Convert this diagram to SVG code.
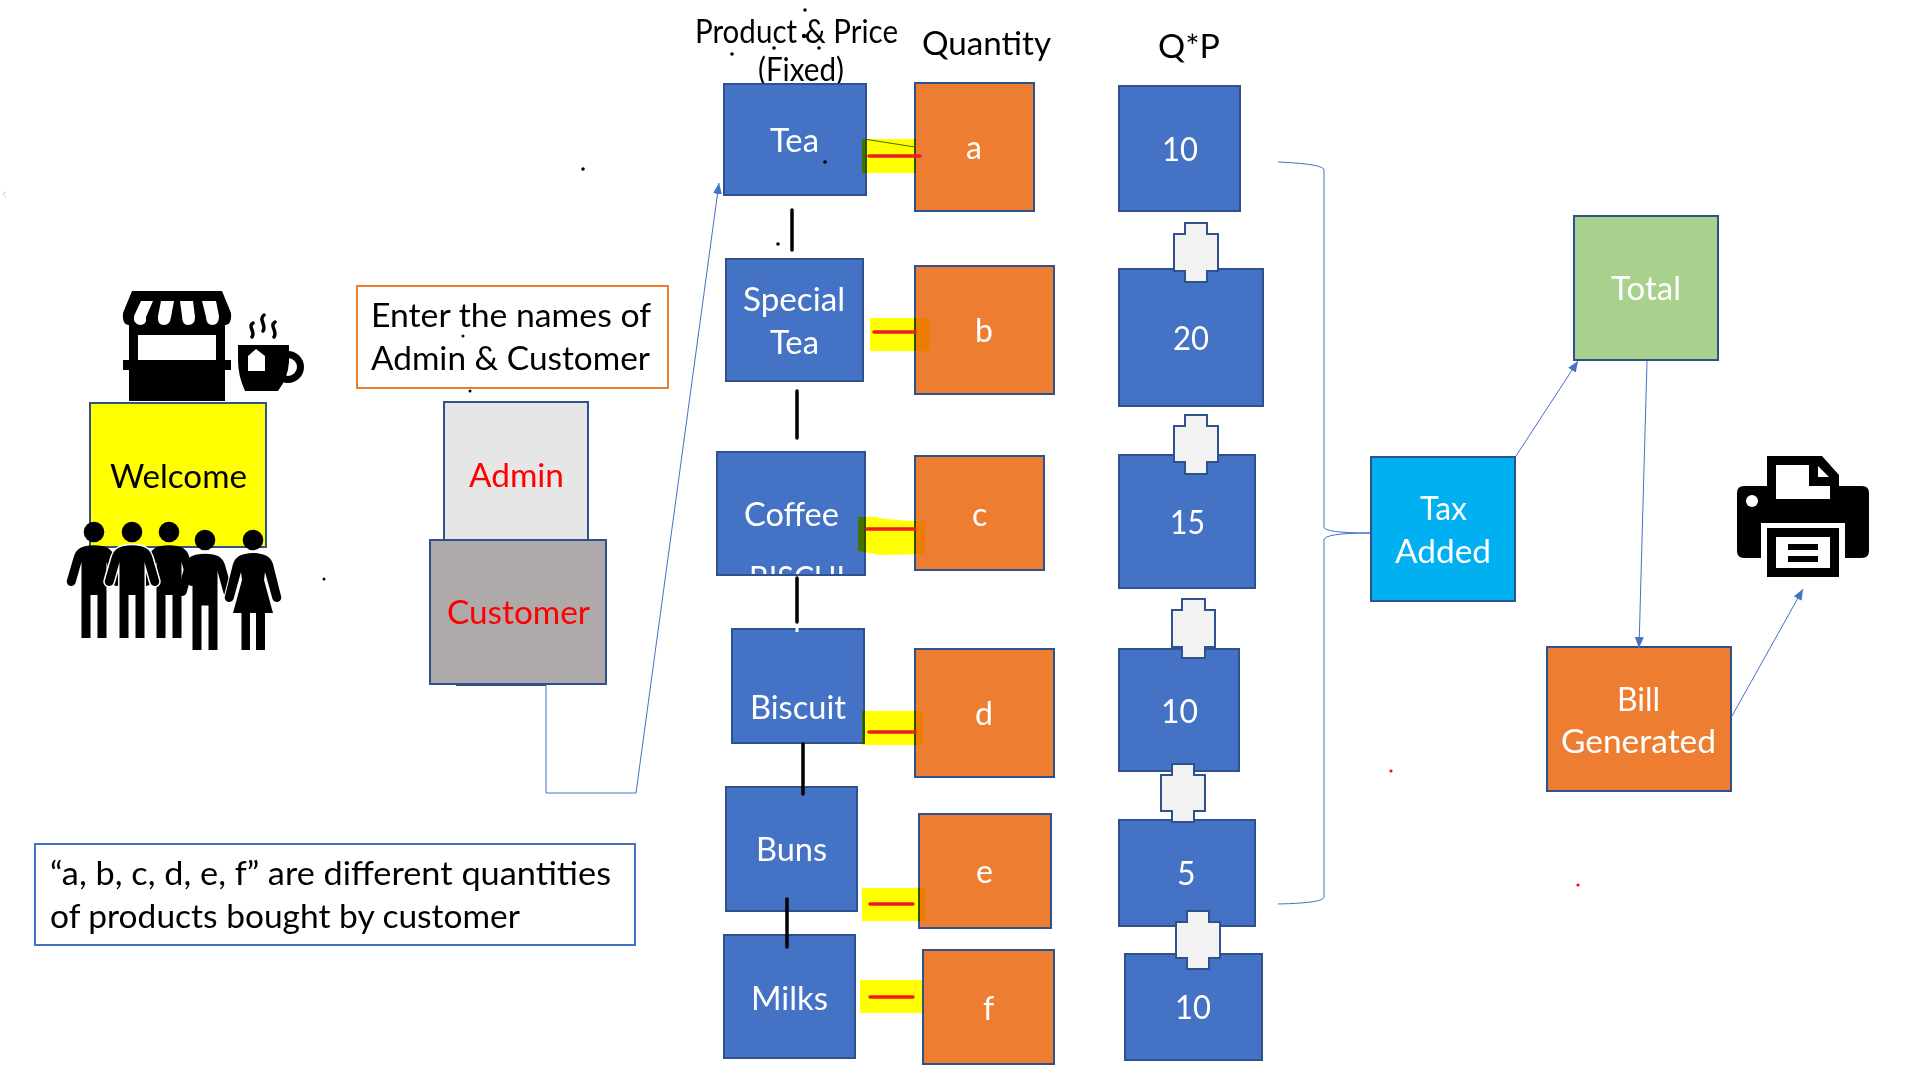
<svg xmlns="http://www.w3.org/2000/svg" width="1920" height="1080" viewBox="0 0 1920 1080">
<defs>
<style>
text{font-family:"Lato","Liberation Sans",sans-serif;font-size:32px}
.w{fill:#fff}.k{fill:#000}.r{fill:#f00}
.bl{fill:#4472C4;stroke:#2F528F;stroke-width:2}
.or{fill:#ED7D31;stroke:#2F528F;stroke-width:2}
.pl{fill:#F2F2F2;stroke:#2F528F;stroke-width:2}
.hl{fill:#FFFF00;mix-blend-mode:multiply}
.rd{stroke:#ED1C24;stroke-width:3.5;stroke-linecap:round;fill:none}
.bk{stroke:#000;stroke-width:3.5;stroke-linecap:round;fill:none}
.cn{stroke:#4472C4;stroke-width:1;fill:none}
.ah{stroke:#4472C4;stroke-width:1;fill:none;marker-end:url(#arrow)}
</style>
<marker id="arrow" markerUnits="userSpaceOnUse" markerWidth="12" markerHeight="10" refX="11" refY="5" orient="auto"><path d="M0,0.5L11,5L0,9.5z" fill="#4472C4"/></marker>
<clipPath id="coffeeClip"><rect x="718" y="453" width="146" height="121"/></clipPath>
<path id="man" d="M-8,14Q0,12.5 8,14C14,15 18,18 20,24L27,48A4.5,4.5 0 0 1 18.5,51L12.5,30V62V106H3.5V63H-3.5V106H-12.5V62V30L-18.5,51A4.5,4.5 0 0 1 -27,48L-20,24C-18,18 -14,15 -8,14Z"/>
</defs>
<rect width="1920" height="1080" fill="#fff"/>

<g id="welcome">
<rect x="90" y="403" width="176" height="144" fill="#FFFF00" stroke="#2F528F" stroke-width="2"/>
<text class="k" x="110" y="488" textLength="137" lengthAdjust="spacingAndGlyphs">Welcome</text>
</g>
<g id="store">
<path d="M132,291H222L231,313Q232,325 225,325V360H231V370H225V401H129V370H123V360H129V325Q122,325 123,313Z"/>
<path fill="#fff" d="M141,301H153L146,317Q147,325 140,325Q133,324 134,316Z M161,301H174L171,317Q170,325 164,325Q157,325 158,316Z M180,301H193L195,317Q195,325 188,325Q182,325 182,316Z M202,301H216L219,316Q219,325 212,325Q206,324 206,317Z"/>
<rect x="138" y="335" width="78" height="25" fill="#fff"/>
</g>
<g id="cup">
<circle cx="288" cy="367" r="12.5" fill="none" stroke="#000" stroke-width="7"/>
<path d="M238,345H289V362Q288,378 278,391H245Q238,376 238,360Z"/>
<path d="M248,356L256,349L265,356V371H248Z" fill="#fff"/>
<path d="M253,323C247,327 256,331 252,337M264,315C258,320 267,325 263,331M275,322C269,326 278,331 274,337" fill="none" stroke="#000" stroke-width="3.5" stroke-linecap="round"/>
</g>
<g id="people">
<g transform="translate(94,532)"><circle cy="0" r="10.3"/><use href="#man"/></g>
<g transform="translate(169,532)"><circle cy="0" r="10.3"/><use href="#man"/></g>
<g transform="translate(132,532)"><circle cy="0" r="10.3"/><use href="#man" stroke="#fff" stroke-width="3" paint-order="stroke"/></g>
<g transform="translate(205,540)"><circle cy="0" r="10.3"/><use href="#man" transform="scale(1,1.038)"/></g>
<g transform="translate(253,540)"><circle cy="0" r="10.3"/><path stroke="#fff" stroke-width="2" paint-order="stroke" d="M-8,14Q0,12 8,14C14,15 18,18 20,24L28,56A4.5,4.5 0 0 1 19.5,59L12,32L11,40L20,73H12V110H3V73H-3V110H-11.5V73H-20L-11,40L-12,32L-19.5,59A4.5,4.5 0 0 1 -28,56L-20,24C-18,18 -14,15 -8,14Z"/></g>
</g>

<g id="instructions">
<rect x="357" y="286" width="311" height="102" fill="#fff" stroke="#ED7D31" stroke-width="2"/>
<text class="k" x="371" y="327" textLength="280" lengthAdjust="spacingAndGlyphs">Enter the names of</text>
<text class="k" x="371" y="370" textLength="279" lengthAdjust="spacingAndGlyphs">Admin &amp; Customer</text>
</g>
<g id="admin">
<rect x="444" y="402" width="144" height="140" fill="#E7E6E6" stroke="#2F528F" stroke-width="2"/>
<text class="r" x="469" y="487" textLength="95" lengthAdjust="spacingAndGlyphs">Admin</text>
</g>
<g id="customer">
<line x1="456" y1="685.5" x2="546" y2="685.5" stroke="#2F528F" stroke-width="1"/>
<rect x="430" y="540" width="176" height="144" fill="#AEAAAA" stroke="#2F528F" stroke-width="2"/>
<text class="r" x="447" y="624" textLength="143" lengthAdjust="spacingAndGlyphs">Customer</text>
</g>
<g id="note">
<rect x="35" y="848" width="600" height="101" fill="#fff" stroke="#4472C4" stroke-width="2" transform="translate(0,-4)"/>
<text class="k" x="50" y="885" textLength="561" lengthAdjust="spacingAndGlyphs">“a, b, c, d, e, f” are different quantities</text>
<text class="k" x="50" y="928" textLength="470" lengthAdjust="spacingAndGlyphs">of products bought by customer</text>
</g>

<g id="headers">
<text class="k" x="695" y="43" textLength="203" lengthAdjust="spacingAndGlyphs">Product &amp; Price</text>
<text class="k" x="758" y="81" textLength="86" lengthAdjust="spacingAndGlyphs">(Fixed)</text>
<text class="k" x="922" y="55" textLength="129" lengthAdjust="spacingAndGlyphs">Quantity</text>
<text class="k" x="1158" y="58" textLength="62" lengthAdjust="spacingAndGlyphs">Q*P</text>
</g>

<g id="tea"><rect class="bl" x="724" y="84" width="142" height="111"/><text class="w" x="770" y="152" textLength="49" lengthAdjust="spacingAndGlyphs">Tea</text></g>
<g id="special-tea"><rect class="bl" x="726" y="259" width="137" height="122"/><text class="w" x="743" y="311" textLength="102" lengthAdjust="spacingAndGlyphs">Special</text><text class="w" x="770" y="354" textLength="49" lengthAdjust="spacingAndGlyphs">Tea</text></g>
<g id="coffee"><rect class="bl" x="717" y="452" width="148" height="123"/><text class="w" x="744" y="526" textLength="95" lengthAdjust="spacingAndGlyphs">Coffee</text><g clip-path="url(#coffeeClip)"><text class="w" x="749" y="590" textLength="96" lengthAdjust="spacingAndGlyphs">BISCUI</text></g></g>
<g id="biscuit"><rect class="bl" x="732" y="629" width="132" height="114"/><text class="w" x="750" y="719" textLength="96" lengthAdjust="spacingAndGlyphs">Biscuit</text><line x1="797" y1="627" x2="797" y2="632" stroke="#fff" stroke-width="3"/></g>
<g id="buns"><rect class="bl" x="726" y="787" width="131" height="124"/><text class="w" x="756" y="861" textLength="71" lengthAdjust="spacingAndGlyphs">Buns</text></g>
<g id="milks"><rect class="bl" x="724" y="935" width="131" height="123"/><text class="w" x="751" y="1010" textLength="77" lengthAdjust="spacingAndGlyphs">Milks</text></g>

<g id="qty-a"><rect class="or" x="915" y="83" width="119" height="128"/><text class="w" x="966" y="159">a</text></g>
<g id="qty-b"><rect class="or" x="915" y="266" width="139" height="128"/><text class="w" x="975" y="342">b</text></g>
<g id="qty-c"><rect class="or" x="915" y="456" width="129" height="114"/><text class="w" x="972" y="526">c</text></g>
<g id="qty-d"><rect class="or" x="915" y="649" width="139" height="128"/><text class="w" x="975" y="725">d</text></g>
<g id="qty-e"><rect class="or" x="919" y="814" width="132" height="114"/><text class="w" x="976" y="883">e</text></g>
<g id="qty-f"><rect class="or" x="923" y="950" width="131" height="114"/><text class="w" x="983" y="1020">f</text></g>

<g id="qp-10"><rect class="bl" x="1119" y="86" width="121" height="125"/><text class="w" x="1162" y="161" textLength="36" lengthAdjust="spacingAndGlyphs">10</text></g>
<g id="qp-20"><rect class="bl" x="1119" y="269" width="144" height="137"/><text class="w" x="1173" y="350" textLength="36" lengthAdjust="spacingAndGlyphs">20</text></g>
<g id="qp-15"><rect class="bl" x="1119" y="455" width="136" height="133"/><text class="w" x="1170" y="534" textLength="35" lengthAdjust="spacingAndGlyphs">15</text></g>
<g id="qp-10b"><rect class="bl" x="1119" y="649" width="120" height="122"/><text class="w" x="1161" y="723" textLength="37" lengthAdjust="spacingAndGlyphs">10</text></g>
<g id="qp-5"><rect class="bl" x="1119" y="820" width="136" height="106"/><text class="w" x="1177" y="885">5</text></g>
<g id="qp-10c"><rect class="bl" x="1125" y="954" width="137" height="106"/><text class="w" x="1175" y="1019" textLength="36" lengthAdjust="spacingAndGlyphs">10</text></g>

<g id="plus-1"><path class="pl" d="M1185,223H1207V234H1218V271H1207V282H1185V271H1174V234H1185Z"/></g>
<g id="plus-2"><path class="pl" d="M1185,415H1207V426H1218V462H1207V474H1185V462H1174V426H1185Z"/></g>
<g id="plus-3"><path class="pl" d="M1182,599H1205V610H1215V647H1205V658H1182V647H1172V610H1182Z"/></g>
<g id="plus-4"><path class="pl" d="M1172,764H1194V775H1205V811H1194V822H1172V811H1161V775H1172Z"/></g>
<g id="plus-5"><path class="pl" d="M1187,911H1209V922H1220V958H1209V969H1187V958H1176V922H1187Z"/></g>

<g id="tax"><rect x="1371" y="457" width="144" height="144" fill="#00B0F0" stroke="#2F528F" stroke-width="2"/><text class="w" x="1420" y="520" textLength="47" lengthAdjust="spacingAndGlyphs">Tax</text><text class="w" x="1395" y="563" textLength="96" lengthAdjust="spacingAndGlyphs">Added</text></g>
<g id="total"><rect x="1574" y="216" width="144" height="144" fill="#A9D18E" stroke="#2F528F" stroke-width="2"/><text class="w" x="1611" y="300" textLength="70" lengthAdjust="spacingAndGlyphs">Total</text></g>
<g id="bill"><rect x="1547" y="647" width="184" height="144" fill="#ED7D31" stroke="#2F528F" stroke-width="2"/><text class="w" x="1617" y="711" textLength="43" lengthAdjust="spacingAndGlyphs">Bill</text><text class="w" x="1561" y="753" textLength="155" lengthAdjust="spacingAndGlyphs">Generated</text></g>
<g id="printer">
<path d="M1767,456H1822L1839,475V486H1862Q1869,486 1869,493V551Q1869,558 1862,558H1845V523H1761V558H1744Q1737,558 1737,551V493Q1737,486 1744,486H1767Z"/>
<path fill="#fff" d="M1776,465H1809V486H1830V499H1776Z M1818,466L1829,477H1818Z"/>
<circle cx="1752" cy="501" r="6" fill="#fff"/>
<rect x="1767" y="528" width="72" height="49"/>
<rect x="1776" y="537" width="54" height="31" fill="#fff"/>
<path d="M1788,544H1818V550H1788ZM1788,556H1818V562H1788Z"/>
</g>

<g id="connectors">
<path class="hl" d="M862,139H916V173H862Z"/>
<path class="hl" d="M870,318H929V351H870Z"/>
<path class="hl" d="M858,517H875Q890,520 915,521L925,521V554L880,555L858,551Z"/>
<path class="hl" d="M862,711H923V745H862Z"/>
<path class="hl" d="M862,888H925V921H862Z"/>
<path class="hl" d="M860,980H922V1013H860Z"/>
<line x1="867" y1="139.5" x2="915" y2="147" stroke="#3F7000" stroke-width="1"/>
<line class="rd" x1="869" y1="156" x2="920" y2="156"/>
<line class="rd" x1="874" y1="332" x2="915" y2="332"/>
<line class="rd" x1="867" y1="529" x2="915" y2="529"/>
<line class="rd" x1="869" y1="732" x2="915" y2="732"/>
<line class="rd" x1="870" y1="904" x2="913" y2="904"/>
<line class="rd" x1="870" y1="997" x2="913" y2="997"/>
<line class="bk" x1="792" y1="210" x2="792" y2="250"/>
<line class="bk" x1="797" y1="391" x2="797" y2="438"/>
<line class="bk" x1="797" y1="578" x2="797" y2="622"/>
<line class="bk" x1="803" y1="744" x2="803" y2="794"/>
<line class="bk" x1="787" y1="899" x2="787" y2="947"/>
<path class="ah" d="M546,685V793H636L719,183"/>
<path class="cn" d="M1278,162Q1324,164 1324,170V527Q1324,533 1370,533Q1324,533 1324,540V897Q1324,903 1278,904"/>
<line class="ah" x1="1516" y1="456" x2="1578" y2="361"/>
<line class="ah" x1="1647" y1="361" x2="1639" y2="648"/>
<line class="ah" x1="1732" y1="716" x2="1803" y2="589"/>
</g>

<g id="specks">
<g fill="#000"><circle cx="805" cy="10" r="1.8"/><circle cx="732" cy="54" r="1.8"/><circle cx="774" cy="48" r="1.8"/><circle cx="819" cy="48" r="1.8"/><circle cx="804" cy="36" r="2.2"/><circle cx="807" cy="36" r="1.8"/><circle cx="825" cy="162" r="1.8"/><circle cx="778" cy="244" r="1.8"/><circle cx="583" cy="169" r="1.8"/><circle cx="324" cy="579" r="1.5"/><circle cx="463" cy="336" r="1.5"/><circle cx="470" cy="391" r="1.5"/></g>
<g fill="#f00"><circle cx="1391" cy="771" r="1.6"/><circle cx="1578" cy="885" r="1.6"/></g>
<path d="M6,192L3,194L6,197" fill="none" stroke="#ccc" stroke-width="1"/>
</g>
</svg>
